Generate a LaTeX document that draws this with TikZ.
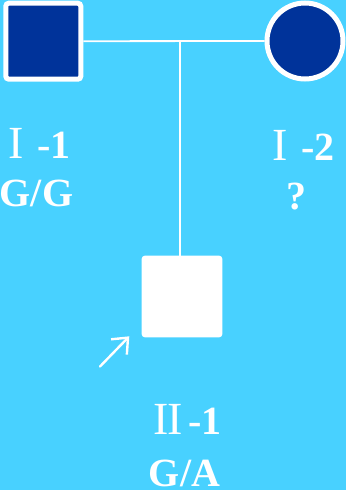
\documentclass[tikz,border=0pt]{standalone}
\usepackage{fontspec}
\setmainfont{Liberation Serif}
\usetikzlibrary{arrows.meta}
\definecolor{skyblue}{RGB}{72,209,255}
\definecolor{navyfill}{RGB}{0,51,154}
\newfontfamily\romfont{Liberation Serif}
\newcommand{\romnum}[1]{{\romfont\mdseries\fontsize{46}{46}\selectfont #1}}
\tikzset{
  link/.style={draw=white, line width=1.8pt},
  member/.style={draw=white, line width=5pt, fill=navyfill, inner sep=0pt},
  label/.style={text=white, inner sep=0pt, font=\bfseries\fontsize{40}{40}\selectfont},
}
\begin{document}
\begin{tikzpicture}[x=1pt, y=-1pt]
  \fill[skyblue] (0,0) rectangle (346,490);
  \useasboundingbox (0,0) rectangle (346,490);

  % generation I
  \node[member, rectangle, rounded corners=3pt, minimum width=75pt, minimum height=76pt]
    (father) at (43.3,41.2) {};
  \node[member, circle, minimum size=76pt] (mother) at (305,41) {};
  % generation II (proband)
  \node[rectangle, fill=white, rounded corners=3pt, minimum width=80.6pt, minimum height=81.6pt, inner sep=0pt]
    (child) at (182,296.5) {};

  % marriage line and descent line
  \draw[link] (father.east) -- (mother.west);
  \coordinate (mid) at (180,41);
  \draw[link] (mid) -- (mid |- child.north);

  % proband arrow
  \coordinate (ptail) at (100,366.5);
  \coordinate (ptip) at (129.3,336.3);
  \draw[draw=white, line width=2.4pt, line cap=round,
        -{Straight Barb[length=13pt, width=22pt, line width=2.4pt]}] (ptail) -- (ptip);

  % labels
  \node[label, anchor=base west] (l1) at (8.2,158.5) {\romnum{I}\kern13.7pt-1};
  \node[label, anchor=base west] (g1) at (-0.4,206) {G/G};
  \node[label, anchor=base west] (l2) at (272.2,160) {\romnum{I}\kern13.7pt-2};
  \node[label, anchor=base] (g2) at (296.7,209) {?};
  \node[label, anchor=base west] (l3) at (153.2,434.5) {\romnum{I\kern-1.5pt I}\kern5.7pt-1};
  \node[label, anchor=base] (g3) at (184.5,486.5) {G/A};
\end{tikzpicture}
\end{document}
